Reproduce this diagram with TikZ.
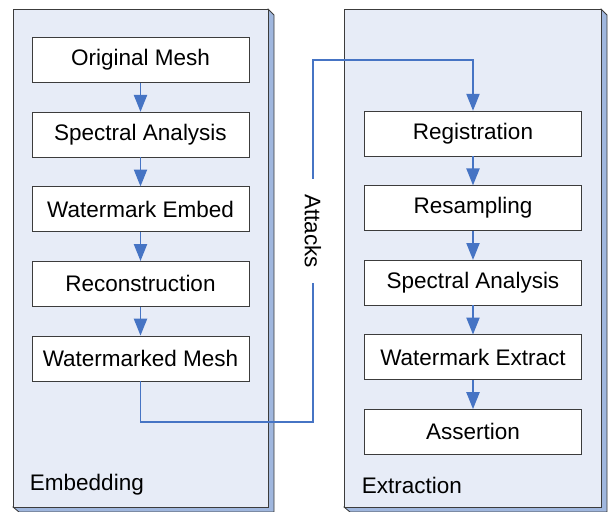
\documentclass[tikz,border=0pt]{standalone}
\usepackage{fontspec}
\setmainfont{Liberation Sans}
\usetikzlibrary{arrows.meta, positioning}
\definecolor{panelface}{RGB}{231,236,247}
\definecolor{panelside}{RGB}{160,183,222}
\definecolor{flowblue}{RGB}{70,116,196}
\definecolor{boxgray}{RGB}{60,60,60}

\begin{document}
\begin{tikzpicture}[x=0.025cm, y=-0.025cm,
    stage/.style={draw=boxgray, fill=white, minimum width=5.425cm, minimum height=1.125cm,
                  inner sep=0pt, font=\fontsize{16}{19}\selectfont},
    flow/.style={draw=flowblue, line width=0.9pt,
                 -{Triangle[length=0.42cm, width=0.33cm]}},
    caption/.style={anchor=west, font=\fontsize{16}{19}\selectfont},
    node distance=0.725cm
  ]
    \useasboundingbox (0,0) rectangle (611,512);

    % panels with a thin 3D side
    \foreach \xl/\xr in {13/268, 344/601} {
      \fill[panelside, draw=boxgray, line width=0.6pt]
        (\xr,9) -- (\xr+6,15) -- (\xr+6,512) -- (\xl+6,512) -- (\xl,507) -- cycle;
      \draw[boxgray, line width=0.6pt, fill=panelface] (\xl,9) rectangle (\xr,507);
    }
    \node[caption] (emb) at (25,485) {Embedding};
    \node[caption] (ext) at (357,485) {Extraction};

    % embedding
    \node[stage] (om) at (140.5,60) {Original Mesh};
    \node[stage, below=of om] (sa) {Spectral Analysis};
    \node[stage, below=of sa] (we) {Watermark Embed};
    \node[stage, below=of we] (rc) {Reconstruction};
    \node[stage, below=of rc] (wm) {Watermarked Mesh};

    % extraction
    \node[stage] (rg) at (473,133.5) {Registration};
    \node[stage, below=of rg] (rs) {Resampling};
    \node[stage, below=of rs] (sx) {Spectral Analysis};
    \node[stage, below=of sx] (wx) {Watermark Extract};
    \node[stage, below=of wx] (as) {Assertion};

    \draw[flow] (om) -- (sa);
    \draw[flow] (sa) -- (we);
    \draw[flow] (we) -- (rc);
    \draw[flow] (rc) -- (wm);
    \draw[flow] (rg) -- (rs);
    \draw[flow] (rs) -- (sx);
    \draw[flow] (sx) -- (wx);
    \draw[flow] (wx) -- (as);

    % attacks channel
    \node[rotate=-90, inner xsep=0.38cm, inner ysep=2pt, font=\fontsize{16}{19}\selectfont] (atk) at (313,231) {Attacks};
    \coordinate (lowturn) at (313,422);
    \coordinate (topturn) at (313,60);
    \draw[flowblue, line width=0.9pt] (wm.south) |- (lowturn) -- (atk);
    \draw[flow] (atk) -- (topturn) -| (rg.north);
  \end{tikzpicture}
\end{document}
